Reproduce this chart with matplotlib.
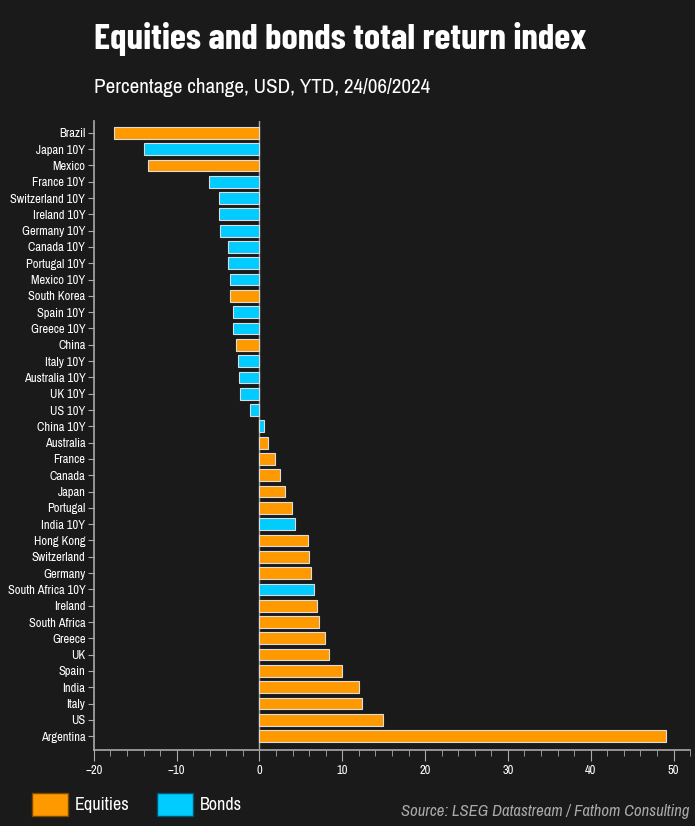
import numpy as np
import matplotlib.pyplot as plt
from matplotlib.patches import Patch
from matplotlib.ticker import MultipleLocator

# datos (top -> bottom)
labels = [
    "Brazil", "Japan 10Y", "Mexico", "France 10Y", "Switzerland 10Y", "Ireland 10Y",
    "Germany 10Y", "Canada 10Y", "Portugal 10Y", "Mexico 10Y", "South Korea",
    "Spain 10Y", "Greece 10Y", "China", "Italy 10Y", "Australia 10Y", "UK 10Y",
    "US 10Y", "China 10Y", "Australia", "France", "Canada", "Japan", "Portugal",
    "India 10Y", "Hong Kong", "Switzerland", "Germany", "South Africa 10Y",
    "Ireland", "South Africa", "Greece", "UK", "Spain", "India", "Italy", "US",
    "Argentina",
]
values = [
    -17.6, -14.0, -13.4, -6.1, -4.9, -4.9, -4.8, -3.8, -3.8, -3.5, -3.5,
    -3.2, -3.2, -2.8, -2.6, -2.5, -2.3, -1.1, 0.6, 1.05, 1.9, 2.5, 3.1, 3.9,
    4.3, 5.8, 6.0, 6.2, 6.6, 7.0, 7.2, 7.9, 8.4, 10.0, 12.0, 12.4, 14.9, 49.1,
]
is_bond = [l.endswith("10Y") for l in labels]

BG = "#1a1a1a"
ORANGE = "#ff9900"
BLUE = "#00ccff"
GREY = "#aaaaaa"
FONT = ["Archivo Narrow", "DejaVu Sans"]
TITLE_FONT = ["Barlow Condensed", "DejaVu Sans"]

plt.rcParams["font.family"] = FONT

fig = plt.figure(figsize=(6.95, 8.26), dpi=100, facecolor=BG)
ax = fig.add_axes([0.135, 0.092, 0.858, 0.762])
ax.set_facecolor(BG)

y = np.arange(len(labels))
colors = [BLUE if b else ORANGE for b in is_bond]
ax.barh(y, values, height=0.72, color=colors, edgecolor="#dddddd", linewidth=0.8, zorder=3)
ax.axvline(0, color=GREY, lw=1, zorder=2)

ax.set_ylim(len(labels) - 0.15, -0.75)
ax.set_xlim(-20, 52)
ax.set_yticks(y)
ax.set_yticklabels(labels)
ax.xaxis.set_major_locator(MultipleLocator(10))
ax.xaxis.set_minor_locator(MultipleLocator(2))

for s in ["top", "right"]:
    ax.spines[s].set_visible(False)
for s in ["left", "bottom"]:
    ax.spines[s].set_color(GREY)
    ax.spines[s].set_linewidth(1.2)

ax.tick_params(axis="y", colors=GREY, labelcolor="white", labelsize=9, length=4, pad=2)
ax.tick_params(axis="x", which="major", colors=GREY, labelcolor="white", labelsize=9, length=8, pad=3)
ax.tick_params(axis="x", which="minor", colors=GREY, length=4)

fig.text(0.135, 0.953, "Equities and bonds total return index", color="white",
         fontsize=26.5, fontweight="bold", va="center", ha="left", family=TITLE_FONT)
fig.text(0.135, 0.894, "Percentage change, USD, YTD, 24/06/2024", color="white",
         fontsize=15.2, va="center", ha="left")

handles = [Patch(facecolor=ORANGE, edgecolor="#7a4a00", label="Equities"),
           Patch(facecolor=BLUE, edgecolor="#005577", label="Bonds")]
leg = fig.legend(handles=handles, loc="lower left", bbox_to_anchor=(0.022, -0.008),
                 ncol=2, frameon=False, fontsize=13, handlelength=2.0,
                 handleheight=1.65, handletextpad=0.4, columnspacing=1.5)
for t in leg.get_texts():
    t.set_color("white")

fig.text(0.992, 0.008, "Source: LSEG Datastream / Fathom Consulting", color=GREY,
         fontsize=12, style="italic", ha="right", va="bottom")

fig.savefig("out.png", dpi=100, facecolor=BG)
